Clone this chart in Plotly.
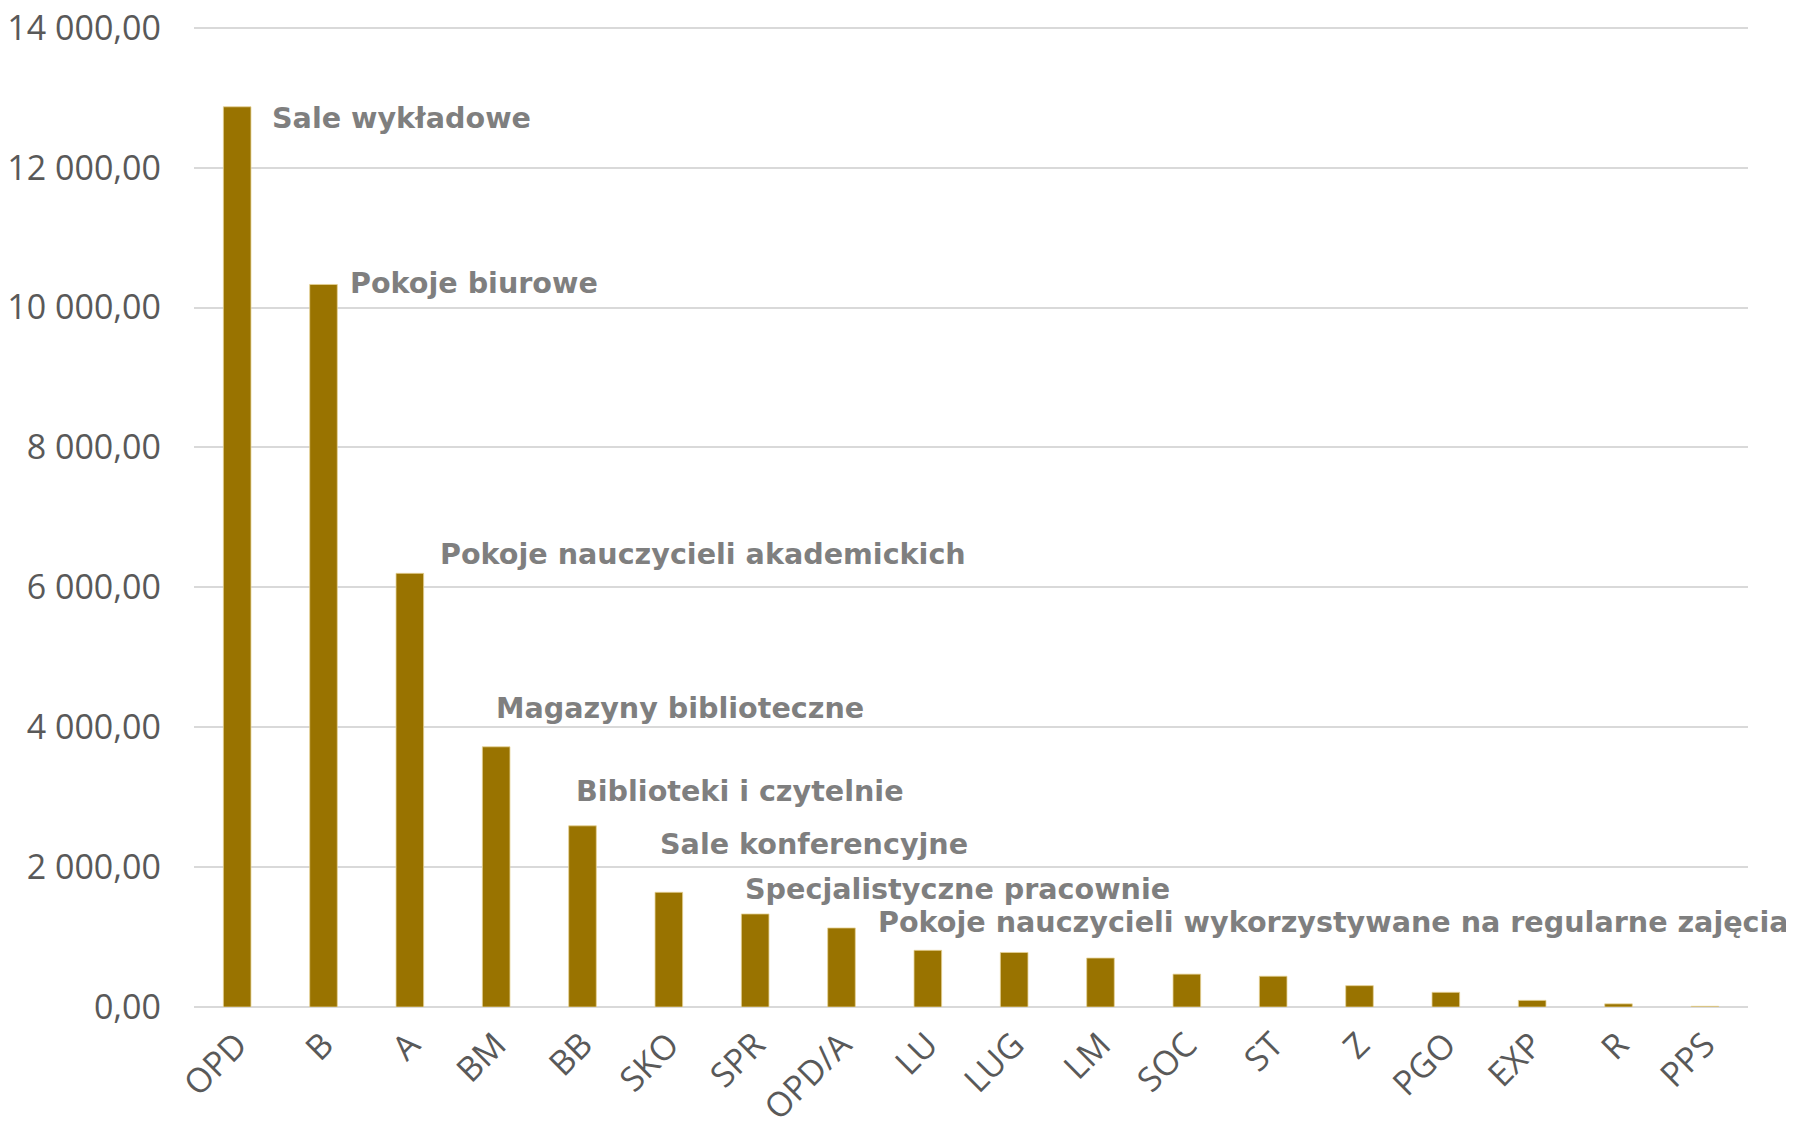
import plotly.graph_objects as go

categories = ["OPD", "B", "A", "BM", "BB", "SKO", "SPR", "OPD/A", "LU", "LUG",
              "LM", "SOC", "ST", "Z", "PGO", "EXP", "R", "PPS"]
values = [12870, 10330, 6200, 3720, 2590, 1640, 1330, 1130, 810, 780,
          700, 470, 440, 305, 210, 95, 45, 10]

label_texts = ["Sale wykładowe", "Pokoje biurowe", "Pokoje nauczycieli akademickich",
               "Magazyny biblioteczne", "Biblioteki i czytelnie", "Sale konferencyjne",
               "Specjalistyczne pracownie",
               "Pokoje nauczycieli wykorzystywane na regularne zajęcia"]
label_xshift = [33, 24, 28, -2, -9, -11, -12, 34]
label_yshift = [-11, 1, 19, 39, 35, 48, 25, 6]

tick_vals = [0, 2000, 4000, 6000, 8000, 10000, 12000, 14000]

fig = go.Figure()
fig.add_trace(go.Bar(
    x=categories, y=values,
    marker=dict(color="#997300", line=dict(color="rgba(230,210,150,0.8)", width=1)),
    showlegend=False,
))

for i, txt in enumerate(label_texts):
    fig.add_annotation(
        x=categories[i], y=values[i], xref="x", yref="y",
        text="<b>" + txt + "</b>", showarrow=False,
        xanchor="left", yanchor="middle",
        xshift=label_xshift[i], yshift=label_yshift[i],
        font=dict(family="DejaVu Sans", size=28.6, color="#7f7f7f"),
    )

fig.update_layout(
    width=1786, height=1116,
    margin=dict(l=186, r=46, t=18, b=117),
    paper_bgcolor="white", plot_bgcolor="white",
    separators=", ",
    bargap=0.68,
    font=dict(family="Open Sans", size=34, color="#595959"),
)
fig.update_xaxes(
    type="category", range=[-0.5, len(categories) - 0.5],
    tickangle=-45, showgrid=False, showline=False,
    ticks="", ticklabelstandoff=10, automargin=False,
    ticklabeloverflow="allow",
    tickfont=dict(family="Open Sans", size=34, color="#595959"),
)
fig.update_yaxes(
    range=[0, 14025], tickvals=tick_vals, tickformat=",.2f",
    showgrid=True, gridcolor="#d9d9d9", gridwidth=2,
    zeroline=True, zerolinecolor="#d9d9d9", zerolinewidth=2,
    showline=False, ticks="", ticklabelstandoff=32, automargin=False,
    ticklabeloverflow="allow",
    tickfont=dict(family="Open Sans", size=34, color="#595959"),
)

fig.write_html("out.html")
